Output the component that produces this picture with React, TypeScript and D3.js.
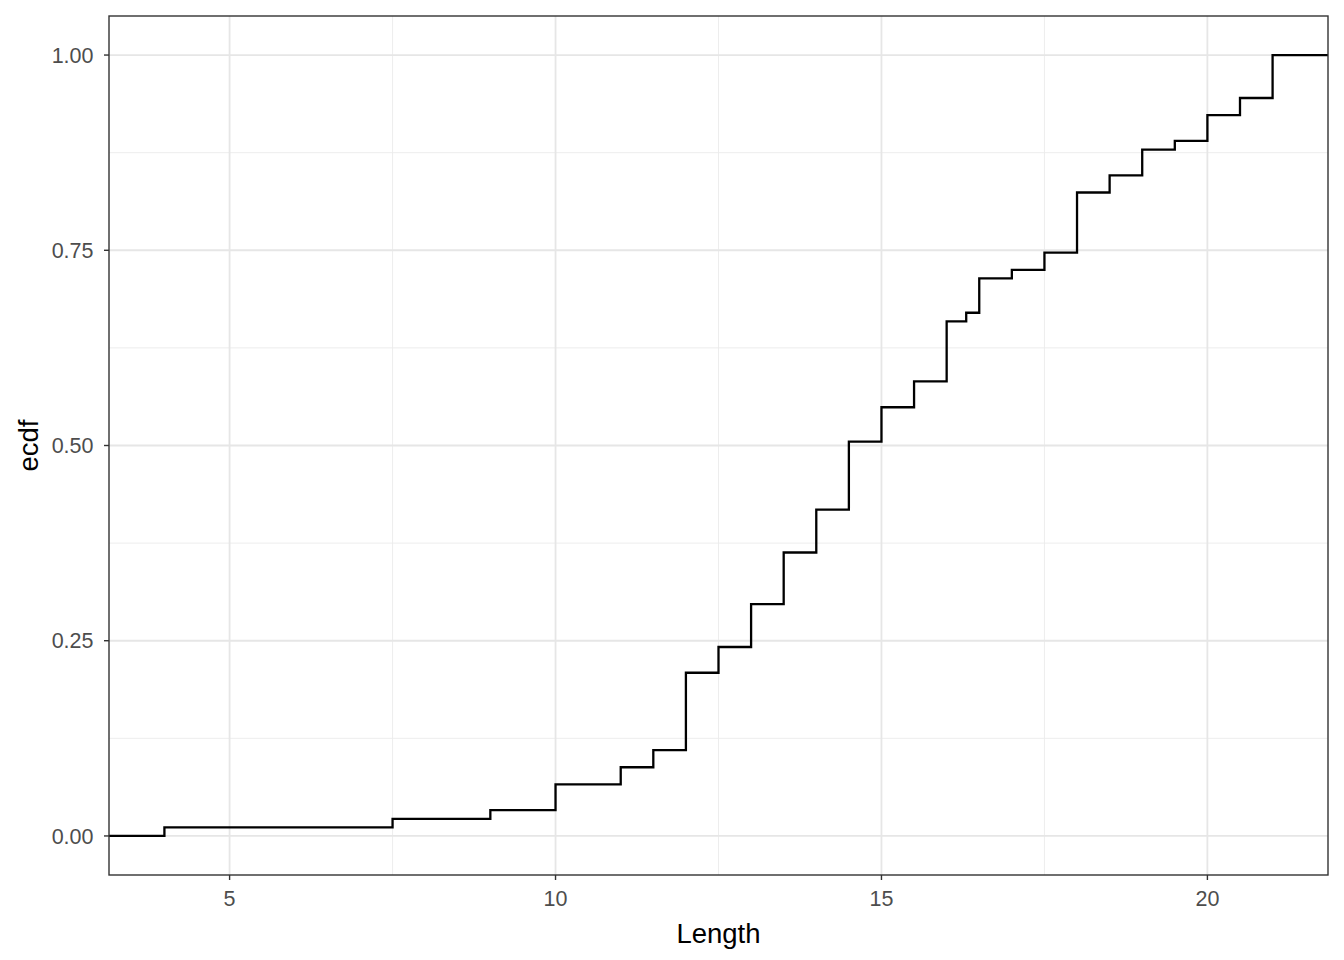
import React, { useEffect, useRef } from 'react';
import * as d3 from 'd3';

// step positions (Length) and the ecdf value reached at each one
const lengths = [4, 7.5, 9, 10, 11, 11.5, 12, 12.5, 13, 13.5, 14, 14.5, 15, 15.5, 16, 16.3, 16.5, 17, 17.5, 18, 18.5, 19, 19.5, 20, 20.5, 21];
const ecdfValues = [0.011, 0.022, 0.033, 0.066, 0.088, 0.110, 0.209, 0.242, 0.297, 0.363, 0.418, 0.505, 0.549, 0.582, 0.659, 0.670, 0.714, 0.725, 0.747, 0.824, 0.846, 0.879, 0.890, 0.923, 0.945, 1.0];

const xTicks = [5, 10, 15, 20];
const xMinor = [7.5, 12.5, 17.5];
const yTicks = [0, 0.25, 0.5, 0.75, 1];
const yMinor = [0.125, 0.375, 0.625, 0.875];

const W = 1344;
const H = 960;
const margin = { top: 16, right: 16, bottom: 85, left: 109 };

export default function App() {
  const ref = useRef<SVGSVGElement>(null);

  useEffect(() => {
    if (!ref.current) return;
    const svg = d3.select(ref.current);
    svg.selectAll('*').remove();

    const x0 = margin.left, x1 = W - margin.right;
    const y0 = H - margin.bottom, y1 = margin.top;

    const xmin = d3.min(lengths)!, xmax = d3.max(lengths)!;
    const xpad = (xmax - xmin) * 0.05;
    const x = d3.scaleLinear().domain([xmin - xpad, xmax + xpad]).range([x0, x1]);
    const y = d3.scaleLinear().domain([-0.05, 1.05]).range([y0, y1]);

    svg.append('rect').attr('width', W).attr('height', H).attr('fill', '#fff');

    const grid = svg.append('g');
    xMinor.forEach(v => grid.append('line').attr('x1', x(v)).attr('x2', x(v)).attr('y1', y0).attr('y2', y1)
      .attr('stroke', '#ebebeb').attr('stroke-width', 0.9));
    yMinor.forEach(v => grid.append('line').attr('x1', x0).attr('x2', x1).attr('y1', y(v)).attr('y2', y(v))
      .attr('stroke', '#ebebeb').attr('stroke-width', 0.9));
    xTicks.forEach(v => grid.append('line').attr('x1', x(v)).attr('x2', x(v)).attr('y1', y0).attr('y2', y1)
      .attr('stroke', '#e6e6e6').attr('stroke-width', 1.8));
    yTicks.forEach(v => grid.append('line').attr('x1', x0).attr('x2', x1).attr('y1', y(v)).attr('y2', y(v))
      .attr('stroke', '#e6e6e6').attr('stroke-width', 1.8));

    // step line, padded to the panel edges like stat_ecdf
    const pts: [number, number][] = [[x.domain()[0], 0]];
    lengths.forEach((l, i) => pts.push([l, ecdfValues[i]]));
    pts.push([x.domain()[1], 1]);
    const line = d3.line<[number, number]>().x(d => x(d[0])).y(d => y(d[1])).curve(d3.curveStepAfter);
    svg.append('path').attr('d', line(pts)).attr('fill', 'none').attr('stroke', '#000').attr('stroke-width', 2.3);

    svg.append('rect').attr('x', x0).attr('y', y1).attr('width', x1 - x0).attr('height', y0 - y1)
      .attr('fill', 'none').attr('stroke', '#333').attr('stroke-width', 1.4);

    const font = 'Liberation Sans, Arial, sans-serif';

    const xa = svg.append('g');
    xTicks.forEach(v => {
      xa.append('line').attr('x1', x(v)).attr('x2', x(v)).attr('y1', y0).attr('y2', y0 + 5)
        .attr('stroke', '#333').attr('stroke-width', 1.4);
      xa.append('text').attr('x', x(v)).attr('y', y0 + 31).attr('text-anchor', 'middle')
        .attr('font-family', font).attr('font-size', 21.5).attr('fill', '#4d4d4d').text(String(v));
    });

    const ya = svg.append('g');
    yTicks.forEach(v => {
      ya.append('line').attr('x1', x0 - 5).attr('x2', x0).attr('y1', y(v)).attr('y2', y(v))
        .attr('stroke', '#333').attr('stroke-width', 1.4);
      ya.append('text').attr('x', x0 - 15.5).attr('y', y(v)).attr('dy', '0.36em').attr('text-anchor', 'end')
        .attr('font-family', font).attr('font-size', 21.5).attr('fill', '#4d4d4d').text(v.toFixed(2));
    });

    svg.append('text').attr('x', (x0 + x1) / 2).attr('y', 943).attr('text-anchor', 'middle')
      .attr('font-family', font).attr('font-size', 27.5).attr('fill', '#000').text('Length');
    svg.append('text').attr('transform', `translate(37.5,${(y0 + y1) / 2}) rotate(-90)`).attr('text-anchor', 'middle')
      .attr('font-family', font).attr('font-size', 27.5).attr('fill', '#000').text('ecdf');
  }, []);

  return (
    <div style={{ position: 'absolute', left: 0, top: 0 }}>
      <svg ref={ref} width={W} height={H} style={{ display: 'block' }} />
    </div>
  );
}
